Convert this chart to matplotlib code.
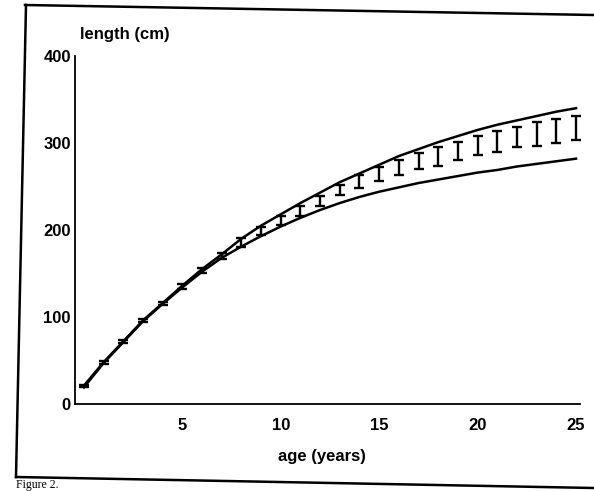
import numpy as np
import matplotlib
matplotlib.use('Agg')
import matplotlib.pyplot as plt
from matplotlib.lines import Line2D

# --- data ---
ages = list(range(0, 26))
upper = [21, 48, 72, 96, 116, 136, 155, 172, 190, 205, 218, 231, 243, 255, 265,
         275, 285, 293, 301, 308, 315, 321, 326, 331, 336, 340]
lower = [19, 47, 71, 95, 115, 134, 152, 168, 181, 193, 204, 214, 223, 231, 238,
         244, 249, 254, 258, 262, 266, 269, 273, 276, 279, 282]
mean_len = [20.7, 47.6, 71.8, 95.7, 115.3, 135.2, 153.7, 170, 186, 199, 211.3,
            222.3, 233.5, 246, 255.3, 264, 272, 279, 284.5, 290.5, 297, 302,
            306.5, 310.3, 313.8, 317.5]
err = [1.5, 1.5, 2, 2, 2, 2.5, 3, 3.5, 5, 5, 5.3, 5.7, 6, 6, 7.5, 8, 9, 9,
       10.5, 10.5, 11, 12, 11.5, 13.3, 13.3, 13.5]

y_ticks = [0, 100, 200, 300, 400]
x_ticks = [5, 10, 15, 20, 25]

W, H = 594, 491
fig = plt.figure(figsize=(W / 100, H / 100), dpi=100)
ax = fig.add_axes([75 / W, 1 - 404 / H, (580 - 75) / W, (404 - 56) / H])

font = {'family': 'Liberation Sans', 'weight': 'bold', 'size': 12}

ax.plot(ages, upper, color='black', lw=1.8)
ax.plot(ages, lower, color='black', lw=1.8)
ax.errorbar(ages, mean_len, yerr=err, fmt='none', ecolor='black',
            elinewidth=1.7, capsize=3.5, capthick=1.7)

ax.set_xlim(-0.45, 25.2)
ax.set_ylim(0, 400)
ax.spines['top'].set_visible(False)
ax.spines['right'].set_visible(False)
ax.spines['left'].set_linewidth(1.3)
ax.spines['bottom'].set_linewidth(1.3)

ax.set_xticks(x_ticks)
ax.set_yticks(y_ticks)
ax.set_xticklabels([str(v) for v in x_ticks], fontdict=font)
ax.set_yticklabels([str(v) for v in y_ticks], fontdict=font)
ax.tick_params(axis='both', length=0)
ax.tick_params(axis='x', pad=10)
ax.tick_params(axis='y', pad=3)

fig.text(80 / W, 1 - 35 / H, 'length (cm)', ha='left', va='center', fontdict=font)
fig.text(322 / W, 1 - 457 / H, 'age (years)', ha='center', va='center', fontdict=font)

# scanned frame around the figure
def px_line(x0, y0, x1, y1, lw=1.8):
    fig.add_artist(Line2D([x0 / W, x1 / W], [1 - y0 / H, 1 - y1 / H],
                          transform=fig.transFigure, color='black', lw=lw))

px_line(25, 5, 594, 15)
px_line(26, 5, 16, 477)
px_line(16, 477, 594, 488)

fig.text(16 / W, 0.0, 'Figure 2.', ha='left', va='bottom',
         family='Liberation Serif', fontsize=8.5)

fig.savefig('out.png', dpi=100)
